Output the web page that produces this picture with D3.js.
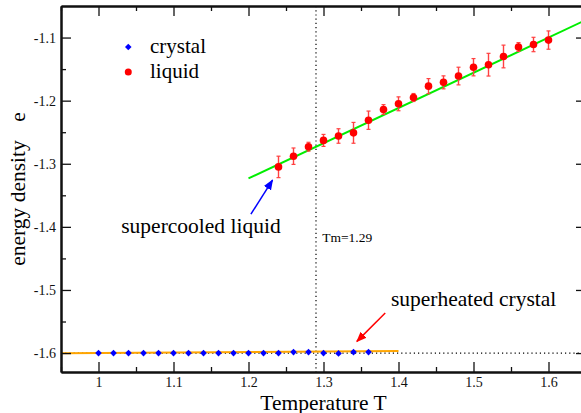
<!DOCTYPE html>
<html>
<head>
<meta charset="utf-8">
<script src="https://cdn.jsdelivr.net/npm/d3@7"></script>
<style>
  body { margin: 0; background: #fff; }
  svg { display: block; font-family: "Liberation Serif", "Times New Roman", serif; }
  .axis .domain { stroke: #111; stroke-width: 2; }
  .axis line { stroke: #111; stroke-width: 1.3; }
  .axis text { font-size: 14px; fill: #111; font-family: "Liberation Serif", serif; }
</style>
</head>
<body>
<script>
var WIDTH = 581, HEIGHT = 413;
var margin = { left: 61, top: 6, right: -5, bottom: 41 };

// liquid branch: T, e and error bars
var liquidT = [1.24, 1.26, 1.28, 1.30, 1.32, 1.34, 1.36, 1.38, 1.40, 1.42,
               1.44, 1.46, 1.48, 1.50, 1.52, 1.54, 1.56, 1.58, 1.60];
var liquidE = [-1.305, -1.288, -1.273, -1.263, -1.256, -1.251, -1.231, -1.214, -1.205, -1.195,
               -1.177, -1.171, -1.161, -1.147, -1.143, -1.130, -1.115, -1.111, -1.104];
var liquidErr = [0.017, 0.013, 0.007, 0.0095, 0.0115, 0.0165, 0.0145, 0.0077, 0.011, 0.0063,
                 0.012, 0.0103, 0.014, 0.0137, 0.018, 0.018, 0.007, 0.0114, 0.0145];

// crystal branch
var crystalT = [1.00, 1.02, 1.04, 1.06, 1.08, 1.10, 1.12, 1.14, 1.16, 1.18,
                1.20, 1.22, 1.24, 1.26, 1.28, 1.30, 1.32, 1.34, 1.36];
var crystalE = [-1.6, -1.6, -1.6, -1.6, -1.6, -1.6, -1.6, -1.6, -1.6, -1.6,
                -1.6, -1.6, -1.6, -1.5984, -1.5984, -1.6, -1.6005, -1.5984, -1.5984];

// fitted lines
var liquidFitT = [1.2, 1.65];
var liquidFitE = [-1.3233, -1.072];
var crystalFitT = [0.95, 1.4];
var crystalFitE = [-1.6003, -1.5968];

var Tm = 1.29;
var eCrystal = -1.6;

var xMajor = [1, 1.1, 1.2, 1.3, 1.4, 1.5, 1.6];
var xMinor = [0.95, 1.05, 1.15, 1.25, 1.35, 1.45, 1.55, 1.65];
var yMajor = [-1.6, -1.5, -1.4, -1.3, -1.2, -1.1];
var yMinor = [-1.55, -1.45, -1.35, -1.25, -1.15];

var x = d3.scaleLinear().domain([0.95, 1.65]).range([margin.left, WIDTH - margin.right]);
var y = d3.scaleLinear().domain([-1.63, -1.05]).range([HEIGHT - margin.bottom, margin.top]);

var svg = d3.select('body').append('svg')
    .attr('width', WIDTH)
    .attr('height', HEIGHT);

var defs = svg.append('defs');
[['arrowBlue', '#0000ff'], ['arrowRed', '#ff0000']].forEach(function (a) {
    defs.append('marker')
        .attr('id', a[0])
        .attr('viewBox', '0 0 10 10')
        .attr('refX', 9).attr('refY', 5)
        .attr('markerWidth', 7).attr('markerHeight', 7)
        .attr('orient', 'auto')
        .append('path')
        .attr('d', 'M0,1 L10,5 L0,9 z')
        .attr('fill', a[1]);
});

var x0 = margin.left, x1 = WIDTH - margin.right;
var y0 = HEIGHT - margin.bottom, y1 = margin.top;

// dotted reference lines
svg.append('line')
    .attr('x1', x(Tm)).attr('x2', x(Tm))
    .attr('y1', y1).attr('y2', y0)
    .attr('stroke', '#000').attr('stroke-width', 1.2)
    .attr('stroke-dasharray', '1.2,3');

svg.append('line')
    .attr('x1', x0).attr('x2', x1)
    .attr('y1', y(eCrystal)).attr('y2', y(eCrystal))
    .attr('stroke', '#000').attr('stroke-width', 1.2)
    .attr('stroke-dasharray', '1.2,3');

var line = d3.line().x(function (d) { return x(d[0]); }).y(function (d) { return y(d[1]); });

svg.append('path')
    .attr('d', line(d3.zip(crystalFitT, crystalFitE)))
    .attr('fill', 'none').attr('stroke', '#ffa500').attr('stroke-width', 2);

svg.append('path')
    .attr('d', line(d3.zip(liquidFitT, liquidFitE)))
    .attr('fill', 'none').attr('stroke', '#00ee00').attr('stroke-width', 2);

// crystal points: square turned 45 degrees
var diamond = d3.symbol().type(d3.symbolSquare).size(22);
svg.selectAll('.crystal')
    .data(d3.zip(crystalT, crystalE))
    .enter().append('path')
    .attr('class', 'crystal')
    .attr('transform', function (d) { return 'translate(' + x(d[0]) + ',' + y(d[1]) + ') rotate(45)'; })
    .attr('d', diamond)
    .attr('fill', '#0000ff');

// liquid points with error bars
var liquid = svg.selectAll('.liquid')
    .data(d3.zip(liquidT, liquidE, liquidErr))
    .enter().append('g')
    .attr('class', 'liquid');

liquid.append('line')
    .attr('x1', function (d) { return x(d[0]); })
    .attr('x2', function (d) { return x(d[0]); })
    .attr('y1', function (d) { return y(d[1] - d[2]); })
    .attr('y2', function (d) { return y(d[1] + d[2]); })
    .attr('stroke', '#ff4040').attr('stroke-width', 1.4);

[-1, 1].forEach(function (s) {
    liquid.append('line')
        .attr('x1', function (d) { return x(d[0]) - 2; })
        .attr('x2', function (d) { return x(d[0]) + 2; })
        .attr('y1', function (d) { return y(d[1] + s * d[2]); })
        .attr('y2', function (d) { return y(d[1] + s * d[2]); })
        .attr('stroke', '#ff4040').attr('stroke-width', 1.2);
});

liquid.append('circle')
    .attr('cx', function (d) { return x(d[0]); })
    .attr('cy', function (d) { return y(d[1]); })
    .attr('r', 3.8)
    .attr('fill', '#ff0000');

// axes, ticks point inward on all four sides
function addAxis(axisFn, ticks, size, transform, labels) {
    var ax = axisFn.tickValues(ticks).tickSizeInner(-size).tickSizeOuter(0).tickPadding(5);
    ax.tickFormat(labels ? function (d) { return String(d); } : '');
    var g = svg.append('g').attr('class', 'axis').attr('transform', transform).call(ax);
    g.attr('font-family', null).attr('font-size', null);
    return g;
}

addAxis(d3.axisBottom(x), xMajor, 10, 'translate(0,' + y0 + ')', true);
addAxis(d3.axisBottom(x), xMinor, 5, 'translate(0,' + y0 + ')', false);
addAxis(d3.axisTop(x), xMajor, 10, 'translate(0,' + y1 + ')', false);
addAxis(d3.axisTop(x), xMinor, 5, 'translate(0,' + y1 + ')', false);
addAxis(d3.axisLeft(y), yMajor, 10, 'translate(' + x0 + ',0)', true);
addAxis(d3.axisLeft(y), yMinor, 5, 'translate(' + x0 + ',0)', false);
addAxis(d3.axisRight(y), yMajor, 10, 'translate(' + x1 + ',0)', false);
addAxis(d3.axisRight(y), yMinor, 5, 'translate(' + x1 + ',0)', false);

// axis titles
svg.append('text')
    .attr('x', x(1.3)).attr('y', 409.5)
    .attr('text-anchor', 'middle')
    .attr('font-size', 21.5)
    .text('Temperature T');

svg.append('text')
    .attr('transform', 'translate(25,203) rotate(-90)')
    .attr('text-anchor', 'middle')
    .attr('font-size', 21.5)
    .text('energy density');

svg.append('text')
    .attr('transform', 'translate(25,117) rotate(-90)')
    .attr('text-anchor', 'middle')
    .attr('font-size', 21.5)
    .text('e');

// legend
var legendX = x(1.0397);
svg.append('path')
    .attr('transform', 'translate(' + legendX + ',47) rotate(45)')
    .attr('d', diamond).attr('fill', '#0000ff');
svg.append('circle')
    .attr('cx', legendX).attr('cy', 72).attr('r', 3.5).attr('fill', '#ff0000');
svg.append('text').attr('x', 150).attr('y', 53).attr('font-size', 21).text('crystal');
svg.append('text').attr('x', 150).attr('y', 78).attr('font-size', 21).text('liquid');

// annotations
svg.append('text')
    .attr('x', x(1.0303)).attr('y', y(-1.4104))
    .attr('font-size', 21.5)
    .text('supercooled liquid');

svg.append('line')
    .attr('x1', x(1.2032)).attr('y1', y(-1.3799))
    .attr('x2', x(1.232)).attr('y2', y(-1.326))
    .attr('stroke', '#0000ff').attr('stroke-width', 1.5)
    .attr('marker-end', 'url(#arrowBlue)');

svg.append('text')
    .attr('x', x(1.3899)).attr('y', y(-1.5251))
    .attr('font-size', 21.5)
    .text('superheated crystal');

svg.append('line')
    .attr('x1', x(1.3823)).attr('y1', y(-1.5366))
    .attr('x2', x(1.3445)).attr('y2', y(-1.5815))
    .attr('stroke', '#ff0000').attr('stroke-width', 1.5)
    .attr('marker-end', 'url(#arrowRed)');

svg.append('text')
    .attr('x', x(1.2983)).attr('y', y(-1.4242))
    .attr('font-size', 13.5)
    .text('Tm=1.29');
</script>
</body>
</html>
